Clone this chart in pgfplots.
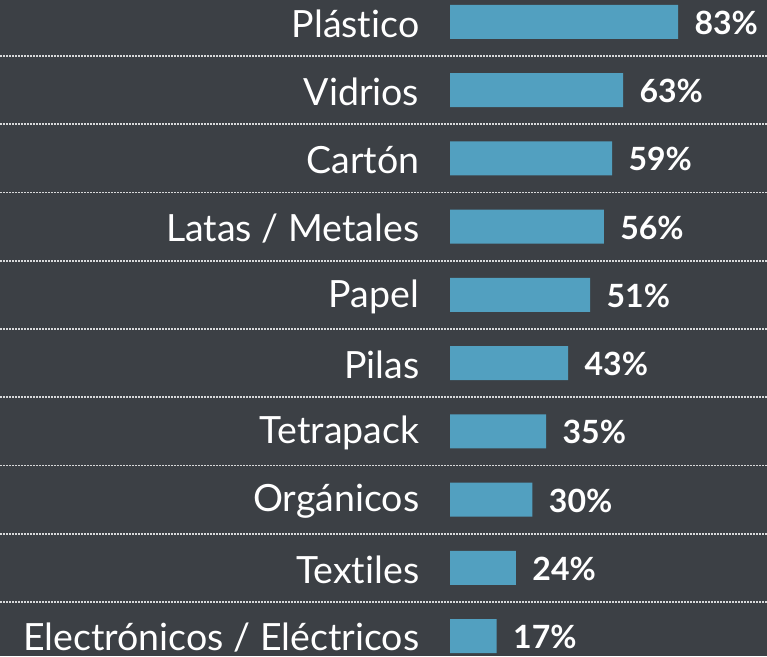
\documentclass[border=0pt]{standalone}
\usepackage{pgfplots}
\pgfplotsset{compat=1.18}
\usepackage{fontspec}
\setmainfont{Lato}[Ligatures={NoCommon,NoContextual,NoRare}]

\definecolor{bgdark}{HTML}{3C4045}
\definecolor{barblue}{HTML}{52A0C0}

\begin{document}
\begin{tikzpicture}
\useasboundingbox (0,0) rectangle (767pt,656pt);
\fill[bgdark] (0,0) rectangle (767pt,656pt);
\begin{axis}[
  at={(450pt,20pt)}, anchor=south west,
  scale only axis, width=274.7pt, height=614pt,
  xmin=0, xmax=100, ymin=0, ymax=9,
  xbar, bar width=34pt, clip=false,
  axis line style={draw=none}, tick style={draw=none},
  xtick=\empty,
  ytick={0,...,9},
  yticklabels={Electrónicos / Eléctricos, Textiles, Orgánicos, Tetrapack, Pilas,
               Papel, Latas / Metales, Cartón, Vidrios, Plástico},
  yticklabel style={font=\fontsize{37.5}{40}\selectfont, text=white, anchor=east, xshift=-23pt, yshift=-2pt},
  nodes near coords={\pgfmathprintnumber[assume math mode=true]{\pgfplotspointmeta}\%},
  point meta=x,
  every node near coord/.append style={font=\bfseries\fontsize{32}{34}\selectfont, text=white, anchor=west, xshift=13pt, yshift=-1pt},
]
\pgfplotsinvokeforeach{0,...,8}{
  \draw[white!80!bgdark, line width=1.8pt, dash pattern=on 1.5pt off 1.5pt]
    (axis cs:-163.8,#1+0.5) -- (axis cs:115.4,#1+0.5);
}
\addplot[fill=barblue, draw=none] coordinates {
  (17,0) (24,1) (30,2) (35,3) (43,4) (51,5) (56,6) (59,7) (63,8) (83,9)};
\end{axis}
\end{tikzpicture}
\end{document}
